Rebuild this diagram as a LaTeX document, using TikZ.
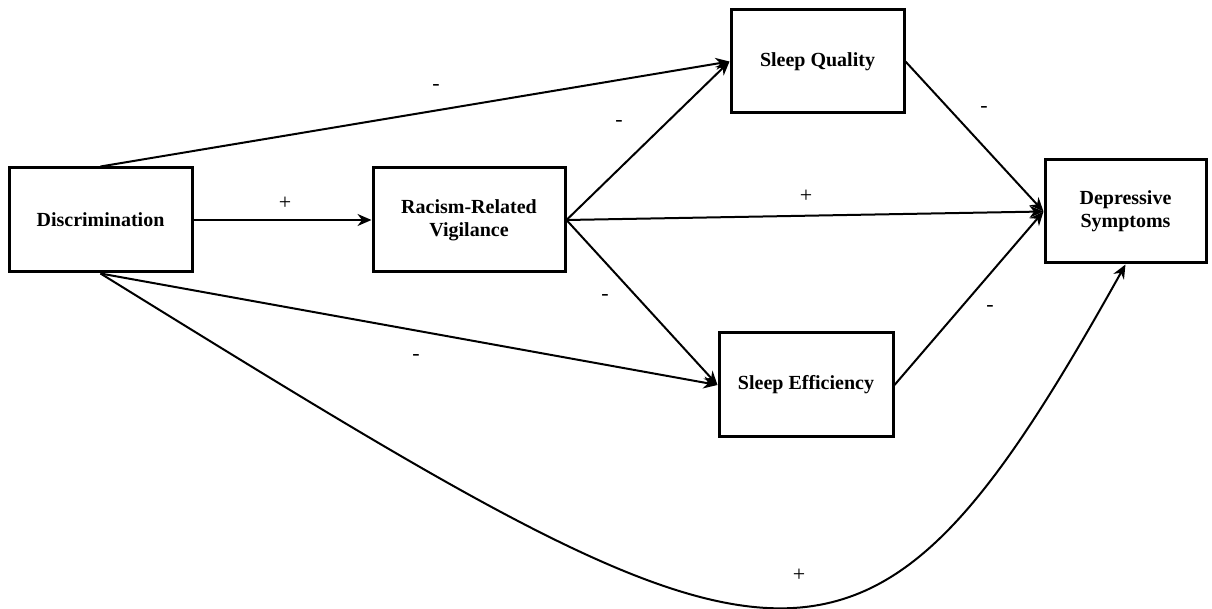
\documentclass[tikz,border=0pt]{standalone}
\usepackage{fontspec}
\setmainfont{Liberation Serif}
\usetikzlibrary{arrows.meta}
\begin{document}
\begin{tikzpicture}[x=0.5pt,y=-0.5pt,
  box/.style={draw=black, line width=1.5pt, fill=white, align=center, inner sep=0pt,
    font=\fontsize{10}{11.5}\selectfont\bfseries},
  conn/.style={line width=1pt, -{Stealth[length=7pt,width=6pt]}},
  sign/.style={font=\fontsize{11}{12}\selectfont, inner sep=0pt}]
\useasboundingbox (0,0) rectangle (1212,609);
\node[box, minimum width=91.5pt, minimum height=52pt] (disc) at (100.5,220) {Discrimination};
\node[box, minimum width=96pt, minimum height=52pt] (rrv) at (469,220) {Racism-Related\\Vigilance};
\node[box, minimum width=86.5pt, minimum height=51.5pt] (sq) at (817.5,61.5) {Sleep Quality};
\node[box, minimum width=87pt, minimum height=52pt] (se) at (806,385) {Sleep Efficiency};
\node[box, minimum width=80.5pt, minimum height=51.5pt] (dep) at (1125.5,211.5) {Depressive\\Symptoms};

\draw[conn] (disc.south) -- (se.west);
\draw[conn] (disc.north) -- (sq.west);
\draw[conn] (disc.east) -- (rrv.west);
\draw[conn] (rrv.east) -- (sq.west);
\draw[conn] (rrv.east) -- (dep.west);
\draw[conn] (rrv.east) -- (se.west);
\draw[conn] (sq.east) -- (dep.west);
\draw[conn] (se.east) -- (dep.west);
\draw[conn] (disc.south) .. controls (790,700) and (860,740) .. (dep.south);

\node[sign] (s1) at (436,88) {-};
\node[sign] (s2) at (285,203) {+};
\node[sign] (s3) at (619,124) {-};
\node[sign] (s4) at (806,196) {+};
\node[sign] (s5) at (605,297) {-};
\node[sign] (s6) at (416,357) {-};
\node[sign] (s7) at (984,110) {-};
\node[sign] (s8) at (990,309) {-};
\node[sign] (s9) at (799,575) {+};
\end{tikzpicture}
\end{document}
